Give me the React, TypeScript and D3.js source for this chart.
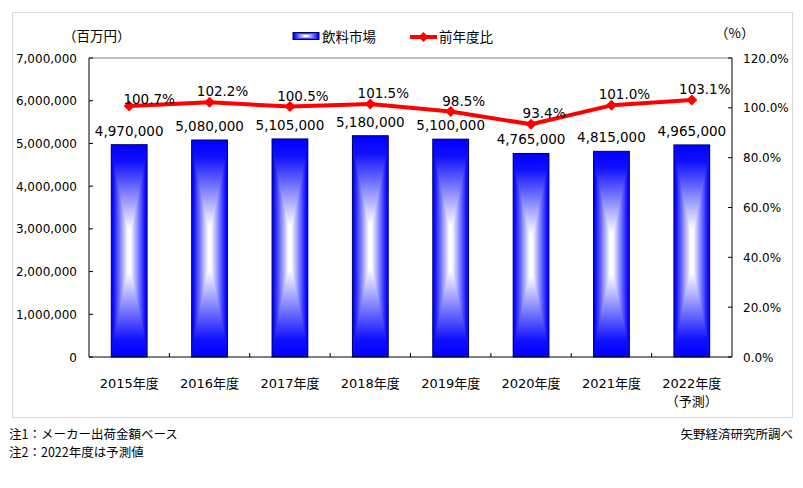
import React from "react";
import * as d3 from "d3";

const categories = ["2015年度", "2016年度", "2017年度", "2018年度", "2019年度", "2020年度", "2021年度", "2022年度"];
const marketValues = [4970000, 5080000, 5105000, 5180000, 5100000, 4765000, 4815000, 4965000];
const yoyRatios = [100.7, 102.2, 100.5, 101.5, 98.5, 93.4, 101.0, 103.1];
const leftTicks = [0, 1000000, 2000000, 3000000, 4000000, 5000000, 6000000, 7000000];
const rightTicks = [0, 20, 40, 60, 80, 100, 120];
const barSeriesName = "飲料市場";
const lineSeriesName = "前年度比";
const leftUnit = "（百万円）";
const rightUnit = "（%）";
const forecastNote = "（予測）";
const note1 = "注1：メーカー出荷金額ベース";
const note2 = "注2：2022年度は予測値";
const source = "矢野経済研究所調べ";

const W = 803;
const H = 488;
const plot = { left: 89, right: 732, top: 58, bottom: 357 };
const NUM_FONT = "'DejaVu Sans', Verdana, 'Noto Sans CJK JP', sans-serif";
const JP_FONT = "'Noto Sans CJK JP', 'DejaVu Sans', sans-serif";

function BoxGradientRect({ x, y, w, h, stroke }: { x: number; y: number; w: number; h: number; stroke?: string }) {
  return (
    <g style={{ isolation: "isolate" }}>
      <rect x={x} y={y} width={w} height={h} fill="url(#gradH)" />
      <rect x={x} y={y} width={w} height={h} fill="url(#gradV)" style={{ mixBlendMode: "darken" }} />
      {stroke ? <rect x={x} y={y} width={w} height={h} fill="none" stroke={stroke} strokeWidth={1} /> : null}
    </g>
  );
}

export default function App() {
  const x = d3
    .scaleBand<string>()
    .domain(categories)
    .range([plot.left, plot.right])
    .paddingInner(0.555)
    .paddingOuter(0.2775);
  const yL = d3.scaleLinear().domain([0, 7000000]).range([plot.bottom, plot.top]);
  const yR = d3.scaleLinear().domain([0, 120]).range([plot.bottom, plot.top]);
  const bw = x.bandwidth();
  const step = x.step();
  const cx = (c: string) => (x(c) as number) + bw / 2;
  const fmtNum = d3.format(",");
  const fmtPct = (v: number) => d3.format(".1f")(v) + "%";

  const lineGen = d3
    .line<number>()
    .x((_, i) => cx(categories[i]))
    .y((d) => yR(d));

  const diamond = (px: number, py: number, r: number) =>
    `M${px},${py - r}L${px + r},${py}L${px},${py + r}L${px - r},${py}Z`;

  const stopsH = [
    { o: 0, c: "#0000ff" },
    { o: 0.06, c: "#1010ff" },
    { o: 0.46, c: "#ffffff" },
    { o: 0.54, c: "#ffffff" },
    { o: 0.94, c: "#1010ff" },
    { o: 1, c: "#0000ff" },
  ];
  const stopsV = [
    { o: 0, c: "#0000ff" },
    { o: 0.08, c: "#1010ff" },
    { o: 0.4, c: "#ffffff" },
    { o: 0.6, c: "#ffffff" },
    { o: 0.92, c: "#1010ff" },
    { o: 1, c: "#0000ff" },
  ];

  return (
    <svg width={W} height={H} style={{ position: "absolute", left: 0, top: 0, background: "#fff" }}>
      <defs>
        <linearGradient id="gradH" x1="0" y1="0" x2="1" y2="0">
          {stopsH.map((s, i) => (
            <stop key={i} offset={s.o} stopColor={s.c} />
          ))}
        </linearGradient>
        <linearGradient id="gradV" x1="0" y1="0" x2="0" y2="1">
          {stopsV.map((s, i) => (
            <stop key={i} offset={s.o} stopColor={s.c} />
          ))}
        </linearGradient>
      </defs>

      <rect x={12.5} y={12.5} width={780} height={405} fill="#fff" stroke="#d9d9d9" strokeWidth={1} />

      {/* legend */}
      <text x={63} y={41} fontFamily={JP_FONT} fontSize={13.5} fill="#000">
        {leftUnit}
      </text>
      <text x={715} y={38} fontFamily={JP_FONT} fontSize={13.5} fill="#000">
        {rightUnit}
      </text>
      <BoxGradientRect x={293} y={32.5} w={26} h={7} stroke="#00006b" />
      <text x={322} y={42} fontFamily={JP_FONT} fontSize={13.5} fill="#000">
        {barSeriesName}
      </text>
      <line x1={410} x2={437} y1={37} y2={37} stroke="#ff0000" strokeWidth={4} />
      <path d={diamond(423.5, 37, 5)} fill="#ff0000" />
      <text x={439} y={42} fontFamily={JP_FONT} fontSize={13.5} fill="#000">
        {lineSeriesName}
      </text>

      {/* bars */}
      {categories.map((c, i) => (
        <BoxGradientRect
          key={c}
          x={x(c) as number}
          y={yL(marketValues[i])}
          w={bw}
          h={plot.bottom - yL(marketValues[i])}
          stroke="#00006b"
        />
      ))}

      {/* axes */}
      <line x1={plot.left} x2={plot.left} y1={plot.top} y2={plot.bottom} stroke="#000" />
      <line x1={plot.right} x2={plot.right} y1={plot.top} y2={plot.bottom} stroke="#000" />
      <line x1={plot.left} x2={plot.right} y1={plot.bottom} y2={plot.bottom} stroke="#000" />
      <line x1={plot.left} x2={plot.right} y1={plot.top} y2={plot.top} stroke="#7f7f7f" />
      {leftTicks.map((t) => (
        <g key={"l" + t}>
          <line x1={plot.left} x2={plot.left + 4} y1={yL(t)} y2={yL(t)} stroke="#000" />
          <text x={77} y={yL(t) + 4.5} textAnchor="end" fontFamily={NUM_FONT} fontSize={12} fill="#000">
            {fmtNum(t)}
          </text>
        </g>
      ))}
      {rightTicks.map((t) => (
        <g key={"r" + t}>
          <line x1={plot.right - 4} x2={plot.right} y1={yR(t)} y2={yR(t)} stroke="#000" />
          <text x={743} y={yR(t) + 4.5} textAnchor="start" fontFamily={NUM_FONT} fontSize={12} fill="#000">
            {fmtPct(t)}
          </text>
        </g>
      ))}
      {categories.slice(1).map((c) => {
        const bx = cx(c) - step / 2;
        return <line key={"t" + c} x1={bx} x2={bx} y1={plot.bottom - 4} y2={plot.bottom} stroke="#000" />;
      })}
      {categories.map((c) => (
        <text key={"x" + c} x={cx(c)} y={388} textAnchor="middle" fontFamily={NUM_FONT} fontSize={13} fill="#000">
          {c}
        </text>
      ))}
      <text x={cx(categories[categories.length - 1])} y={406} textAnchor="middle" fontFamily={JP_FONT} fontSize={13} fill="#000">
        {forecastNote}
      </text>

      {/* bar labels */}
      {categories.map((c, i) => (
        <text
          key={"bl" + c}
          x={cx(c)}
          y={yL(marketValues[i]) - 9}
          textAnchor="middle"
          fontFamily={NUM_FONT}
          fontSize={13.5}
          fill="#000"
        >
          {fmtNum(marketValues[i])}
        </text>
      ))}

      {/* line */}
      <path d={lineGen(yoyRatios) as string} fill="none" stroke="#ff0000" strokeWidth={4} strokeLinejoin="round" />
      {yoyRatios.map((v, i) => (
        <path key={"m" + i} d={diamond(cx(categories[i]), yR(v), 5.5)} fill="#ff0000" />
      ))}
      {yoyRatios.map((v, i) => (
        <text
          key={"pl" + i}
          x={cx(categories[i]) + (i === 0 ? 20 : 13)}
          y={yR(v) - (i === 0 ? 2 : 6)}
          textAnchor="middle"
          fontFamily={NUM_FONT}
          fontSize={13.5}
          fill="#000"
        >
          {fmtPct(v)}
        </text>
      ))}

      {/* notes */}
      <text x={9} y={439} fontFamily={JP_FONT} fontSize={12.5} fill="#000">
        {note1}
      </text>
      <text x={9} y={457} fontFamily={JP_FONT} fontSize={12.5} fill="#000">
        {note2}
      </text>
      <text x={793} y={439} textAnchor="end" fontFamily={JP_FONT} fontSize={12.5} fill="#000">
        {source}
      </text>
    </svg>
  );
}
